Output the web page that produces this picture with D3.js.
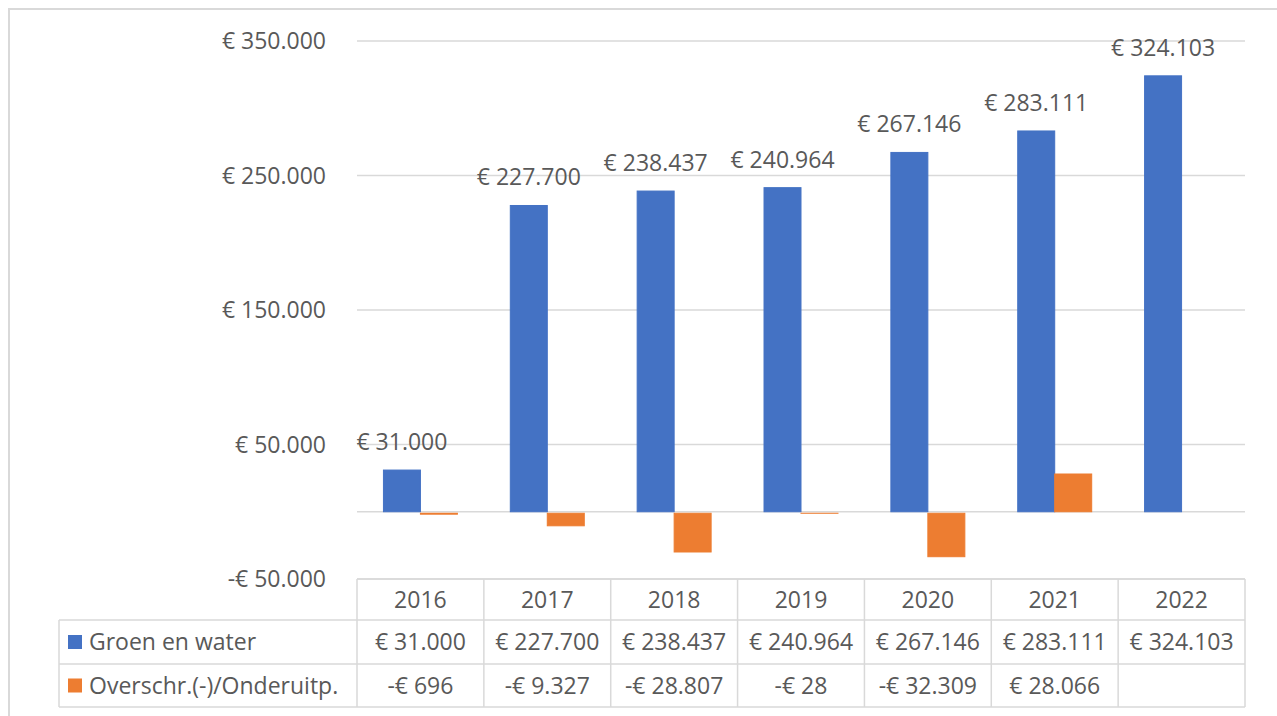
<!DOCTYPE html>
<html>
<head>
<meta charset="utf-8">
<script src="https://cdn.jsdelivr.net/npm/d3@7"></script>
<style>
  body { margin: 0; background: #fff; }
  svg text { font-family: "Open Sans", sans-serif; fill: #595959; }
</style>
</head>
<body>
<svg width="1277" height="716"></svg>
<script>
var years = ["2016", "2017", "2018", "2019", "2020", "2021", "2022"];
var groen = [31000, 227700, 238437, 240964, 267146, 283111, 324103];
var overschr = [-696, -9327, -28807, -28, -32309, 28066, null];
var seriesNames = ["Groen en water", "Overschr.(-)/Onderuitp."];
var seriesColors = ["#4472C4", "#ED7D31"];
var yTicks = [-50000, 50000, 150000, 250000, 350000];

var svg = d3.select("svg"),
    width = +svg.attr("width"),
    height = +svg.attr("height");

var fontSize = 23;
var grid = "#d9d9d9";

var nl = d3.formatLocale({decimal: ",", thousands: ".", grouping: [3], currency: ["€ ", ""]});
var num = nl.format(",.0f");
function euro(v) { return (v < 0 ? "-" : "") + "€ " + num(Math.abs(v)); }

// outer frame (cut off at right/bottom like the screenshot)
svg.append("rect")
    .attr("x", 9).attr("y", 9)
    .attr("width", width + 20).attr("height", height + 20)
    .attr("fill", "none").attr("stroke", grid).attr("stroke-width", 2);

var left = 357, right = 1245;

var x0 = d3.scaleBand().domain(years).range([left, right]).padding(0);
var x1 = d3.scaleBand().domain([0, 1]).range([0, x0.bandwidth()])
    .paddingInner(0).paddingOuter(0.715);

var y = d3.scaleLinear().domain([-50000, 350000]).range([579, 41]);

// gridlines
svg.append("g").selectAll("line")
    .data(yTicks.concat([0]))
    .enter().append("line")
    .attr("x1", left).attr("x2", right)
    .attr("y1", function(d) { return y(d); })
    .attr("y2", function(d) { return y(d); })
    .attr("stroke", grid).attr("stroke-width", 1.5);

// y labels
svg.append("g").selectAll("text")
    .data(yTicks)
    .enter().append("text")
    .attr("x", 326)
    .attr("y", function(d) { return y(d); })
    .attr("dy", "0.35em")
    .attr("text-anchor", "end")
    .style("font-size", fontSize + "px")
    .text(euro);

// bars
var series = [groen, overschr];
series.forEach(function(vals, s) {
    svg.append("g").selectAll("rect")
        .data(vals.map(function(v, i) { return {year: years[i], v: v}; })
            .filter(function(d) { return d.v !== null; }))
        .enter().append("rect")
        .attr("x", function(d) { return x0(d.year) + x1(s); })
        .attr("width", x1.bandwidth())
        .attr("y", function(d) { return d.v < 0 ? y(0) + 1.5 : y(d.v); })
        .attr("height", function(d) { return Math.abs(y(d.v) - y(0)); })
        .attr("fill", seriesColors[s])
        .attr("stroke", seriesColors[s])
        .attr("stroke-width", 1);
});

// data labels on the blue series
svg.append("g").selectAll("text")
    .data(groen.map(function(v, i) { return {year: years[i], v: v}; }))
    .enter().append("text")
    .attr("x", function(d) { return x0(d.year) + x1(0) + x1.bandwidth() / 2; })
    .attr("y", function(d) { return y(d.v) - 20; })
    .attr("text-anchor", "middle")
    .style("font-size", fontSize + "px")
    .text(function(d) { return euro(d.v); });

// data table
var rowTops = [579, 620, 664, 707];
var tableLeft = 59;
var t = svg.append("g");

t.append("line").attr("x1", left).attr("x2", right).attr("y1", rowTops[0]).attr("y2", rowTops[0]);
[1, 2, 3].forEach(function(r) {
    t.append("line").attr("x1", tableLeft).attr("x2", right).attr("y1", rowTops[r]).attr("y2", rowTops[r]);
});
years.concat(["end"]).forEach(function(yr, i) {
    var xx = i < years.length ? x0(yr) : right;
    t.append("line").attr("x1", xx).attr("x2", xx).attr("y1", rowTops[0]).attr("y2", rowTops[3]);
});
t.append("line").attr("x1", tableLeft).attr("x2", tableLeft).attr("y1", rowTops[1]).attr("y2", rowTops[3]);
t.selectAll("line").attr("stroke", grid).attr("stroke-width", 1.5);

years.forEach(function(yr) {
    t.append("text")
        .attr("x", x0(yr) + x0.bandwidth() / 2)
        .attr("y", (rowTops[0] + rowTops[1]) / 2)
        .attr("dy", "0.35em")
        .attr("text-anchor", "middle")
        .style("font-size", fontSize + "px")
        .text(yr);
});

series.forEach(function(vals, s) {
    var cy = (rowTops[s + 1] + rowTops[s + 2]) / 2;
    t.append("rect")
        .attr("x", 68).attr("y", cy - 7)
        .attr("width", 14).attr("height", 14)
        .attr("fill", seriesColors[s]);
    t.append("text")
        .attr("x", 89).attr("y", cy)
        .attr("dy", "0.35em")
        .style("font-size", fontSize + "px")
        .text(seriesNames[s]);
    vals.forEach(function(v, i) {
        if (v === null) return;
        t.append("text")
            .attr("x", x0(years[i]) + x0.bandwidth() / 2)
            .attr("y", cy)
            .attr("dy", "0.35em")
            .attr("text-anchor", "middle")
            .style("font-size", fontSize + "px")
            .text(euro(v));
    });
});
</script>
</body>
</html>
